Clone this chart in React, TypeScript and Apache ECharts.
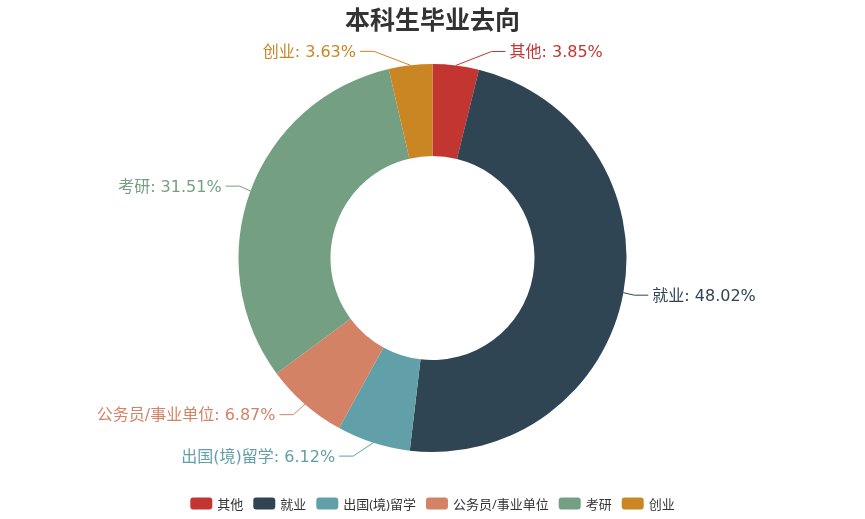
import React, { useEffect, useRef } from 'react';
import * as echarts from 'echarts';

const categories = ['其他', '就业', '出国(境)留学', '公务员/事业单位', '考研', '创业'];
const values = [3.85, 48.02, 6.12, 6.87, 31.51, 3.63];
const colors = ['#c23531', '#2f4554', '#61a0a8', '#d48265', '#749f83', '#ca8622'];

const FONT = '"Open Sans", "Noto Sans CJK SC", sans-serif';
const LABEL_FONT = '"DejaVu Sans", "Noto Sans CJK SC", sans-serif';
const INNER = 102;
const OUTER = 194;
const LINE_LEN = 14;
const LINE_LEN2 = 14;
const LABEL_R = OUTER + 25;

const App: React.FC = () => {
  const chartRef = useRef<HTMLDivElement>(null);

  useEffect(() => {
    if (!chartRef.current) return;
    const chart = echarts.init(chartRef.current, undefined, { renderer: 'svg' });
    const cy = 258;

    // 模仿旧版饼图标签布局：标签沿外圈排开，末段水平引导线
    const layoutLabel = (params: any) => {
      const pts = params.labelLinePoints;
      if (!pts || pts.length < 2) return {};
      const cx = chart.getWidth() / 2;
      const p1 = pts[1];
      const dir = p1[0] >= cx ? 1 : -1;
      const dy = Math.abs(p1[1] - cy);
      const dx = dy < LABEL_R ? Math.sqrt(LABEL_R * LABEL_R - dy * dy) : Math.abs(p1[0] - cx);
      const endX = cx + dir * dx;
      return {
        x: endX + dir * 4,
        y: p1[1],
        align: dir > 0 ? 'left' : 'right',
        verticalAlign: 'middle',
        labelLinePoints: [pts[0], [endX - dir * LINE_LEN2, p1[1]], [endX, p1[1]]]
      };
    };

    const option: echarts.EChartsOption = {
      animation: false,
      color: colors,
      textStyle: { fontFamily: FONT },
      title: {
        text: '本科生毕业去向',
        left: 'center',
        top: 1,
        padding: 5,
        textStyle: {
          fontSize: 25,
          fontWeight: 'bold',
          color: '#333',
          fontFamily: FONT
        }
      },
      legend: {
        data: categories,
        bottom: 4,
        left: 'center',
        itemWidth: 22,
        itemHeight: 12,
        itemGap: 10,
        textStyle: { fontSize: 13, color: '#333', fontFamily: FONT }
      },
      series: [
        {
          type: 'pie',
          radius: [INNER, OUTER],
          center: ['50%', cy],
          startAngle: 90,
          data: categories.map((name, i) => ({
            name,
            value: values[i],
            label: { color: colors[i] }
          })),
          label: {
            formatter: '{b}: {d}%',
            fontSize: 16,
            fontFamily: LABEL_FONT
          },
          labelLine: {
            length: LINE_LEN,
            length2: LINE_LEN2
          },
          labelLayout: layoutLabel
        }
      ]
    };

    chart.setOption(option);

    return () => {
      chart.dispose();
    };
  }, []);

  return (
    <div
      ref={chartRef}
      style={{ position: 'fixed', left: 0, top: 0, width: '865px', height: '519px' }}
    />
  );
};

export default App;
